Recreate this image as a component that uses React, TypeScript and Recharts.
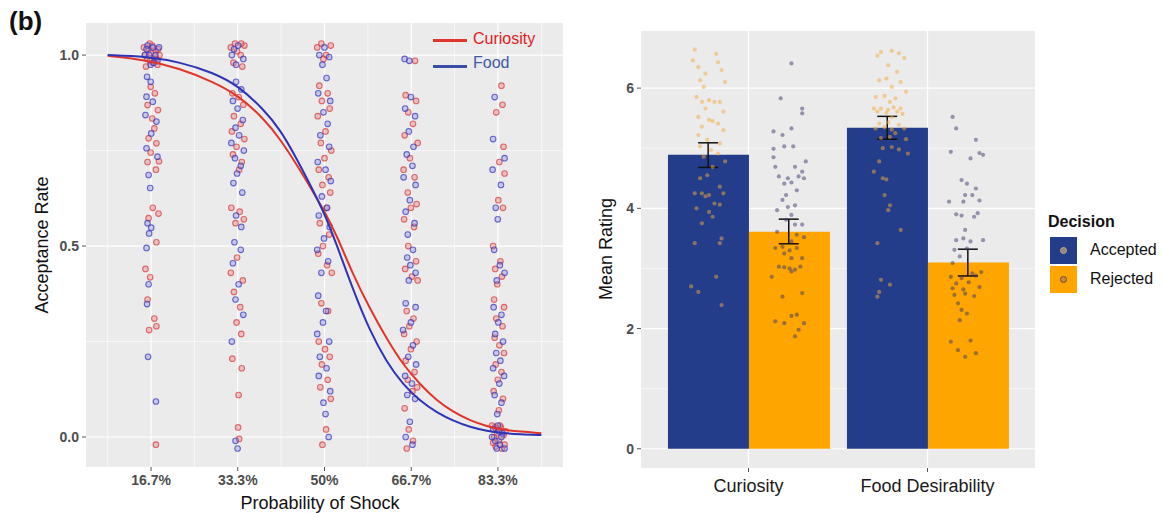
import React from "react";
import {
  ComposedChart,
  Scatter,
  Line,
  Bar,
  ErrorBar,
  XAxis,
  YAxis,
  CartesianGrid,
} from "recharts";

// ---------- panel (b) left: acceptance rate vs probability of shock ----------
const probTicks = [16.67, 33.33, 50, 66.67, 83.33];
const probLabels = ["16.7%", "33.3%", "50%", "66.7%", "83.3%"];
const probMinor = [8.33, 25, 41.67, 58.33, 75, 91.67];
const rateTicks = [0, 0.5, 1];
const rateMinor = [0.25, 0.75];

// fitted logistic curves
const curveX = [8.33, 15.8, 22.2, 28.6, 33.4, 38.3, 41.5, 44.7, 47.9, 50, 52.3, 55.5, 58.7, 61.9, 65.1, 68.4, 71.6, 74.8, 78, 81.2, 84.4, 87.6, 91.67];
const curiosityCurve = [0.998, 0.987, 0.965, 0.93, 0.895, 0.834, 0.78, 0.712, 0.64, 0.59, 0.53, 0.424, 0.337, 0.258, 0.189, 0.137, 0.095, 0.065, 0.043, 0.028, 0.019, 0.014, 0.01];
const foodCurve = [1.0, 0.996, 0.982, 0.954, 0.92, 0.858, 0.805, 0.728, 0.643, 0.585, 0.505, 0.385, 0.278, 0.197, 0.137, 0.094, 0.064, 0.042, 0.026, 0.016, 0.01, 0.007, 0.005];

// jittered subject points [probability %, acceptance rate]
const curiosity167 = [[15.3,1.02],[15.9,0.99],[16.4,1.03],[17.0,0.98],[17.6,1.01],[18.3,1.0],[15.7,0.97],[16.7,1.005],[17.9,0.975],[16.2,1.015],[17.3,0.99],[15.5,1.0],[16.9,1.025],[18.0,1.015],[16.5,0.985],[17.7,0.99],[16.6,0.917],[17.4,0.9],[16.0,0.869],[18.0,0.856],[16.9,0.834],[17.3,0.808],[16.2,0.782],[17.7,0.769],[16.6,0.745],[18.2,0.722],[16.0,0.72],[17.6,0.7],[17.0,0.6],[18.1,0.585],[16.2,0.573],[17.7,0.51],[15.6,0.44],[16.5,0.418],[16.0,0.36],[17.3,0.31],[16.3,0.28],[17.7,0.29],[17.6,-0.02]];
const food167 = [[16.0,1.025],[17.5,1.0],[15.5,1.0],[18.2,1.02],[16.6,0.975],[17.9,0.985],[17.0,1.02],[16.3,1.0],[17.2,0.98],[15.8,1.015],[15.9,0.943],[16.6,0.93],[15.8,0.891],[17.0,0.878],[15.6,0.843],[17.7,0.826],[16.7,0.795],[15.8,0.756],[17.9,0.734],[16.2,0.686],[16.5,0.652],[16.0,0.56],[16.7,0.548],[16.3,0.533],[15.8,0.495],[16.2,0.4],[15.9,0.348],[16.1,0.21],[17.6,0.093]];
const curiosity333 = [[32.0,1.02],[32.8,1.03],[33.9,1.0],[34.6,1.025],[32.5,0.98],[34.2,0.97],[33.2,1.01],[34.0,1.03],[32.3,0.9],[33.5,0.89],[34.4,0.87],[32.6,0.84],[33.9,0.82],[32.2,0.8],[34.6,0.78],[33.1,0.76],[32.4,0.74],[34.1,0.72],[33.6,0.7],[32.1,0.6],[33.7,0.59],[34.5,0.57],[32.9,0.56],[33.2,0.47],[32.0,0.43],[34.3,0.41],[32.6,0.38],[33.8,0.34],[33.1,0.3],[34.0,0.27],[32.3,0.205],[34.1,0.18],[33.5,0.11],[33.4,0.025],[33.6,-0.005]];
const food333 = [[32.2,1.0],[33.4,1.025],[34.4,0.99],[33.0,0.975],[32.6,1.015],[33.0,0.93],[34.0,0.91],[32.4,0.88],[33.3,0.86],[34.3,0.83],[32.9,0.81],[33.6,0.79],[32.1,0.77],[34.5,0.75],[32.8,0.73],[33.9,0.71],[33.2,0.69],[32.5,0.665],[34.2,0.64],[33.0,0.58],[34.0,0.55],[32.7,0.51],[33.9,0.49],[32.4,0.455],[33.5,0.4],[32.9,0.36],[34.4,0.32],[32.2,0.25],[32.9,-0.01],[33.3,-0.03]];
const curiosity50 = [[48.6,1.02],[49.4,1.03],[50.3,1.0],[51.2,1.025],[49.8,0.99],[49.0,0.92],[50.6,0.9],[49.5,0.88],[51.0,0.86],[48.7,0.84],[50.2,0.8],[49.3,0.77],[51.3,0.75],[50.0,0.73],[48.9,0.7],[50.8,0.68],[49.6,0.66],[51.1,0.64],[50.4,0.6],[49.1,0.56],[50.9,0.53],[49.7,0.5],[48.8,0.48],[50.5,0.45],[51.4,0.43],[49.4,0.35],[50.7,0.33],[48.9,0.25],[50.1,0.23],[51.0,0.21],[49.5,0.19],[50.6,0.15],[49.2,0.13],[51.2,0.1],[50.3,0.02],[49.6,-0.02]];
const food50 = [[49.0,1.0],[50.0,1.02],[50.9,0.995],[49.6,0.975],[50.4,0.94],[48.8,0.9],[51.1,0.88],[49.8,0.85],[50.6,0.82],[49.2,0.79],[50.9,0.76],[48.7,0.72],[50.2,0.7],[51.2,0.67],[49.5,0.63],[50.5,0.6],[48.9,0.58],[51.0,0.55],[49.9,0.52],[48.6,0.49],[50.7,0.46],[49.4,0.43],[48.8,0.37],[50.3,0.33],[49.7,0.3],[48.6,0.27],[50.9,0.25],[49.1,0.21],[50.4,0.18],[48.9,0.16],[51.1,0.12],[49.8,0.09],[50.2,0.06],[50.8,0.0]];
const curiosity667 = [[67.4,0.985],[65.6,0.895],[67.6,0.88],[66.1,0.85],[67.0,0.82],[65.4,0.79],[67.9,0.77],[66.4,0.73],[65.2,0.7],[67.3,0.68],[66.0,0.64],[67.7,0.61],[66.6,0.6],[65.3,0.57],[67.2,0.55],[66.1,0.5],[67.6,0.46],[65.5,0.44],[66.8,0.42],[67.9,0.41],[65.8,0.33],[67.1,0.31],[66.3,0.29],[65.3,0.27],[67.7,0.25],[66.6,0.23],[65.6,0.2],[67.3,0.17],[66.0,0.15],[67.8,0.13],[66.9,0.12],[65.4,0.075],[66.2,0.02],[67.0,-0.01],[65.8,-0.03]];
const food667 = [[65.4,0.99],[66.3,0.985],[66.6,0.89],[65.5,0.86],[67.4,0.84],[66.2,0.8],[67.1,0.76],[65.8,0.74],[66.9,0.71],[65.2,0.68],[67.5,0.66],[66.4,0.62],[65.6,0.59],[67.3,0.56],[66.0,0.53],[67.0,0.49],[65.9,0.47],[66.5,0.45],[67.5,0.43],[66.2,0.41],[65.6,0.35],[67.5,0.34],[66.6,0.3],[65.1,0.28],[67.0,0.24],[66.1,0.21],[67.6,0.19],[65.5,0.16],[66.8,0.14],[65.9,0.11],[67.4,0.1],[66.4,0.04],[65.6,0.0],[66.9,-0.02]];
const curiosity833 = [[84.0,0.92],[84.2,0.87],[83.0,0.85],[84.4,0.76],[83.6,0.72],[84.6,0.69],[83.4,0.62],[84.3,0.6],[82.4,0.5],[83.8,0.46],[82.8,0.44],[84.1,0.42],[83.2,0.4],[82.6,0.36],[84.5,0.34],[83.0,0.31],[84.2,0.29],[82.7,0.26],[83.6,0.24],[84.5,0.22],[82.9,0.19],[84.0,0.17],[83.3,0.15],[82.5,0.12],[84.3,0.1],[83.5,0.07],[82.2,0.03],[83.0,0.02],[83.9,0.025],[84.8,0.015],[82.6,0.0],[83.5,-0.01],[84.4,0.005],[82.9,-0.025],[84.1,-0.03],[83.2,0.01],[82.4,-0.015],[84.6,-0.02],[83.7,0.03],[82.8,0.025]];
const food833 = [[82.7,0.89],[82.4,0.78],[84.6,0.73],[82.3,0.7],[83.9,0.66],[82.9,0.6],[83.3,0.57],[82.6,0.49],[83.7,0.45],[84.6,0.43],[83.1,0.41],[82.5,0.34],[84.0,0.32],[83.4,0.3],[82.8,0.27],[84.3,0.25],[83.0,0.22],[83.8,0.2],[82.4,0.18],[84.5,0.16],[83.6,0.14],[82.7,0.11],[84.0,0.09],[83.2,0.06],[82.4,0.02],[83.3,0.03],[84.2,0.01],[83.7,-0.02],[82.8,-0.01],[84.6,-0.03],[83.1,-0.03],[84.0,0.0],[83.5,0.015],[82.2,0.0]];

// ---------- panel (b) right: mean rating by decision ----------
const categories = ["Curiosity", "Food Desirability"];
const acceptedMean = [4.89, 5.34];
const rejectedMean = [3.61, 3.1];
const acceptedErr = [[0.21, 0.2], [0.19, 0.19]];
const rejectedErr = [[0.2, 0.21], [0.225, 0.22]];
const ratingTicks = [0, 2, 4, 6];
const ratingMinor = [1, 3, 5];
const groupCenters = [1, 2];
const dodge = 0.225;

// jittered participant ratings [group position, rating]
const curAcceptedPts = [[0.70,6.64],[0.82,6.57],[0.69,6.46],[0.83,6.43],[0.72,6.35],[0.85,6.3],[0.76,6.24],[0.73,6.13],[0.87,6.1],[0.75,6.02],[0.71,5.85],[0.78,5.8],[0.74,5.77],[0.81,5.77],[0.84,5.77],[0.76,5.66],[0.86,5.61],[0.72,5.52],[0.78,5.47],[0.80,5.45],[0.83,5.41],[0.74,5.36],[0.86,5.3],[0.72,5.22],[0.77,5.14],[0.84,5.08],[0.73,5.03],[0.79,4.97],[0.83,4.91],[0.75,4.86],[0.87,4.78],[0.80,4.69],[0.77,4.55],[0.73,4.5],[0.84,4.36],[0.70,4.25],[0.74,4.25],[0.78,4.22],[0.86,4.25],[0.76,4.2],[0.81,4.08],[0.84,4.06],[0.71,4.0],[0.78,3.94],[0.80,3.86],[0.74,3.75],[0.70,3.42],[0.84,3.42],[0.85,3.5],[0.82,2.86],[0.68,2.7],[0.72,2.61],[0.85,2.39]];
const curRejectedPts = [[1.24,6.41],[1.18,5.83],[1.30,5.66],[1.30,5.58],[1.14,5.28],[1.24,5.33],[1.19,5.22],[1.25,5.03],[1.20,5.03],[1.14,4.99],[1.14,4.85],[1.32,4.78],[1.15,4.69],[1.26,4.69],[1.30,4.61],[1.17,4.53],[1.22,4.5],[1.28,4.53],[1.31,4.5],[1.20,4.41],[1.24,4.43],[1.27,4.3],[1.21,4.22],[1.19,4.14],[1.26,4.05],[1.22,4.02],[1.16,3.97],[1.24,3.89],[1.21,3.81],[1.26,3.73],[1.30,3.73],[1.16,3.61],[1.27,3.56],[1.31,3.52],[1.24,3.45],[1.15,3.34],[1.19,3.36],[1.23,3.3],[1.27,3.34],[1.20,3.25],[1.24,3.17],[1.30,3.17],[1.17,3.03],[1.20,3.02],[1.23,3.0],[1.26,2.98],[1.29,3.03],[1.24,2.95],[1.13,2.86],[1.30,2.59],[1.19,2.53],[1.27,2.23],[1.24,2.21],[1.15,2.12],[1.20,2.09],[1.31,2.09],[1.28,1.98],[1.26,1.87]];
const foodAcceptedPts = [[1.74,6.6],[1.80,6.62],[1.84,6.58],[1.72,6.54],[1.87,6.5],[1.78,6.38],[1.83,6.27],[1.73,6.13],[1.77,6.16],[1.85,6.1],[1.80,6.02],[1.88,5.94],[1.71,5.85],[1.76,5.87],[1.82,5.83],[1.79,5.77],[1.70,5.66],[1.74,5.66],[1.78,5.64],[1.81,5.68],[1.85,5.66],[1.72,5.61],[1.77,5.59],[1.83,5.61],[1.86,5.57],[1.80,5.52],[1.73,5.41],[1.78,5.43],[1.84,5.39],[1.71,5.33],[1.76,5.35],[1.80,5.31],[1.87,5.33],[1.82,5.25],[1.74,5.17],[1.79,5.19],[1.88,5.15],[1.75,5.0],[1.80,5.02],[1.84,4.98],[1.89,4.91],[1.73,4.78],[1.70,4.61],[1.75,4.5],[1.77,4.48],[1.76,4.22],[1.79,4.05],[1.78,3.97],[1.85,3.64],[1.72,3.42],[1.74,2.81],[1.79,2.73],[1.73,2.61],[1.72,2.53]];
const foodRejectedPts = [[2.14,5.52],[2.16,5.33],[2.27,5.14],[2.13,4.94],[2.29,4.92],[2.31,4.89],[2.24,4.83],[2.19,4.47],[2.22,4.41],[2.27,4.33],[2.21,4.22],[2.25,4.22],[2.12,4.11],[2.20,4.11],[2.29,4.13],[2.16,3.9],[2.19,3.88],[2.28,3.92],[2.26,3.86],[2.21,3.64],[2.16,3.47],[2.20,3.5],[2.24,3.45],[2.31,3.47],[2.15,3.31],[2.22,3.33],[2.18,3.2],[2.14,3.09],[2.25,2.92],[2.30,2.94],[2.13,2.86],[2.19,2.84],[2.27,2.88],[2.16,2.75],[2.23,2.77],[2.14,2.67],[2.20,2.65],[2.29,2.69],[2.15,2.56],[2.21,2.58],[2.26,2.54],[2.17,2.42],[2.19,2.31],[2.22,2.25],[2.18,2.14],[2.13,1.78],[2.24,1.8],[2.17,1.64],[2.27,1.59],[2.21,1.53]];

const FONT = "'Liberation Sans', Arial, Helvetica, sans-serif";
const RED = "#E0352B";
const BLUE = "#2F33B5";
const NAVY = "#233D8A";
const ORANGE = "#FFA500";

const toPts = (arr: number[][]) => arr.map(([x, y]) => ({ x, y }));
const curiosityPts = toPts([...curiosity167, ...curiosity333, ...curiosity50, ...curiosity667, ...curiosity833]);
const foodPts = toPts([...food167, ...food333, ...food50, ...food667, ...food833]);
const curiosityLine = curveX.map((x, i) => ({ x, y: curiosityCurve[i] }));
const foodLine = curveX.map((x, i) => ({ x, y: foodCurve[i] }));

const barRows = categories.map((cat, i) => ({
  cat,
  accepted: acceptedMean[i],
  rejected: rejectedMean[i],
}));
const meanPts = groupCenters.flatMap((c, i) => [
  { x: c - dodge, y: acceptedMean[i], err: acceptedErr[i] },
  { x: c + dodge, y: rejectedMean[i], err: rejectedErr[i] },
]);
const acceptedPts = toPts([...curAcceptedPts, ...foodAcceptedPts]);
const rejectedPts = toPts([...curRejectedPts, ...foodRejectedPts]);

const ring = (stroke: string, fill: string) => (p: any) => (
  <circle cx={p.cx} cy={p.cy} r={2.8} fill={fill} stroke={stroke} strokeWidth={1.1} />
);
const dot = (fill: string, opacity: number) => (p: any) => (
  <circle cx={p.cx} cy={p.cy} r={2.1} fill={fill} fillOpacity={opacity} />
);
const nothing = () => <g />;

const tickStyle = { fontSize: 14, fontWeight: 700, fill: "#4D4D4D", fontFamily: FONT };

function AcceptancePanel() {
  return (
    <ComposedChart width={580} height={513} margin={{ top: 23, right: 17, bottom: 16, left: 50 }}>
      <CartesianGrid
        fill="#EBEBEB"
        stroke="#FFFFFF"
        strokeWidth={0.6}
        horizontalValues={rateMinor}
        verticalValues={probMinor}
      />
      <CartesianGrid
        stroke="#FFFFFF"
        strokeWidth={1.2}
        horizontalValues={rateTicks}
        verticalValues={probTicks}
      />
      <XAxis
        type="number"
        dataKey="x"
        domain={[4.17, 95.83]}
        ticks={probTicks}
        allowDataOverflow
        interval={0}
        tickFormatter={(v) => probLabels[probTicks.indexOf(v)]}
        axisLine={false}
        tickLine={{ stroke: "#555" }}
        tickSize={4}
        tickMargin={4}
        height={30}
        tick={tickStyle}
      />
      <YAxis
        type="number"
        dataKey="y"
        domain={[-0.0785, 1.084]}
        ticks={rateTicks}
        allowDataOverflow
        interval={0}
        tickFormatter={(v) => v.toFixed(1)}
        axisLine={false}
        tickLine={{ stroke: "#555" }}
        tickSize={4}
        tickMargin={3}
        width={36}
        tick={tickStyle}
      />
      <Scatter data={curiosityPts} shape={ring("rgba(215,55,55,0.7)", "rgba(232,130,130,0.42)")} isAnimationActive={false} />
      <Scatter data={foodPts} shape={ring("rgba(50,50,190,0.7)", "rgba(140,140,225,0.38)")} isAnimationActive={false} />
      <Line data={curiosityLine} dataKey="y" type="basis" stroke={RED} strokeWidth={2} dot={false} isAnimationActive={false} zIndex={700} />
      <Line data={foodLine} dataKey="y" type="basis" stroke={BLUE} strokeWidth={2} dot={false} isAnimationActive={false} zIndex={700} />
    </ComposedChart>
  );
}

function RatingPanel() {
  return (
    <ComposedChart width={582} height={513} data={barRows} barCategoryGap="5%" barGap={0} margin={{ top: 31, right: 127, bottom: 15, left: 35 }}>
      <CartesianGrid
        xAxisId="num"
        fill="#EBEBEB"
        stroke="#FFFFFF"
        strokeWidth={0.6}
        vertical={false}
        horizontalValues={ratingMinor}
      />
      <CartesianGrid
        xAxisId="num"
        stroke="#FFFFFF"
        strokeWidth={1.2}
        horizontalValues={ratingTicks}
        verticalValues={groupCenters}
      />
      <XAxis
        xAxisId="cat"
        dataKey="cat"
        type="category"
        padding={{ left: 18, right: 18 }}
        interval={0}
        axisLine={false}
        tickLine={{ stroke: "#555" }}
        tickSize={4}
        tickMargin={7}
        height={30}
        tick={{ fontSize: 18, fill: "#1A1A1A", fontFamily: FONT }}
      />
      <XAxis xAxisId="num" type="number" dataKey="x" domain={[0.4, 2.6]} allowDataOverflow hide />
      <YAxis
        type="number"
        domain={[-0.32, 6.95]}
        ticks={ratingTicks}
        allowDataOverflow
        interval={0}
        axisLine={false}
        tickLine={{ stroke: "#555" }}
        tickSize={4}
        tickMargin={3}
        width={26}
        tick={tickStyle}
      />
      <Bar xAxisId="cat" dataKey="accepted" fill={NAVY} isAnimationActive={false} />
      <Bar xAxisId="cat" dataKey="rejected" fill={ORANGE} isAnimationActive={false} />
      <Scatter xAxisId="num" data={acceptedPts} dataKey="y" shape={dot("#F7A83A", 0.5)} isAnimationActive={false} />
      <Scatter xAxisId="num" data={rejectedPts} dataKey="y" shape={dot("#3A3A6E", 0.5)} isAnimationActive={false} />
      <Scatter xAxisId="num" data={meanPts} dataKey="y" shape={nothing} isAnimationActive={false}>
        <ErrorBar dataKey="err" direction="y" width={10} stroke="#111" strokeWidth={1.5} />
      </Scatter>
    </ComposedChart>
  );
}

const abs = (s: React.CSSProperties): React.CSSProperties => ({ position: "absolute", ...s });

export default function App() {
  return (
    <div style={{ position: "absolute", left: 0, top: 0, width: 1162, height: 513, background: "#fff", fontFamily: FONT, overflow: "hidden" }}>
      <div style={abs({ left: 0, top: 0 })}>
        <AcceptancePanel />
      </div>
      <div style={abs({ left: 580, top: 0 })}>
        <RatingPanel />
      </div>

      <div style={abs({ left: 9, top: 6, fontSize: 26, fontWeight: 700, color: "#111" })}>(b)</div>

      {/* left panel titles */}
      <div style={abs({ left: 42 - 150, top: 235, width: 300, textAlign: "center", fontSize: 18, lineHeight: "20px", color: "#111", transform: "rotate(-90deg)" })}>
        Acceptance Rate
      </div>
      <div style={abs({ left: 170, top: 493, width: 300, textAlign: "center", fontSize: 18, lineHeight: "20px", color: "#111" })}>
        Probability of Shock
      </div>

      {/* left panel legend */}
      <div style={abs({ left: 433, top: 39, width: 34, height: 0, borderTop: `3px solid ${RED}` })} />
      <div style={abs({ left: 473, top: 29, fontSize: 16, lineHeight: "20px", color: "#E41A1C" })}>Curiosity</div>
      <div style={abs({ left: 433, top: 65, width: 34, height: 0, borderTop: "3px solid #3C4DA5" })} />
      <div style={abs({ left: 473, top: 53, fontSize: 16, lineHeight: "20px", color: "#3D5AA6" })}>Food</div>

      {/* right panel title */}
      <div style={abs({ left: 606 - 150, top: 239, width: 300, textAlign: "center", fontSize: 18, lineHeight: "20px", color: "#111", transform: "rotate(-90deg)" })}>
        Mean Rating
      </div>

      {/* right panel legend */}
      <div style={abs({ left: 1048, top: 212, fontSize: 16, fontWeight: 700, lineHeight: "20px", color: "#111" })}>Decision</div>
      <div style={abs({ left: 1050, top: 237, width: 27, height: 27, background: NAVY })} />
      <div style={abs({ left: 1060, top: 247, width: 5, height: 5, borderRadius: "50%", border: "1.2px solid #C9A36A", background: "#8F8A8A" })} />
      <div style={abs({ left: 1050, top: 266, width: 27, height: 27, background: ORANGE })} />
      <div style={abs({ left: 1060, top: 276, width: 5, height: 5, borderRadius: "50%", border: "1.2px solid #6B4A3A", background: "#C98A3A" })} />
      <div style={abs({ left: 1090, top: 240, fontSize: 16, lineHeight: "20px", color: "#111" })}>Accepted</div>
      <div style={abs({ left: 1090, top: 269, fontSize: 16, lineHeight: "20px", color: "#111" })}>Rejected</div>
    </div>
  );
}
